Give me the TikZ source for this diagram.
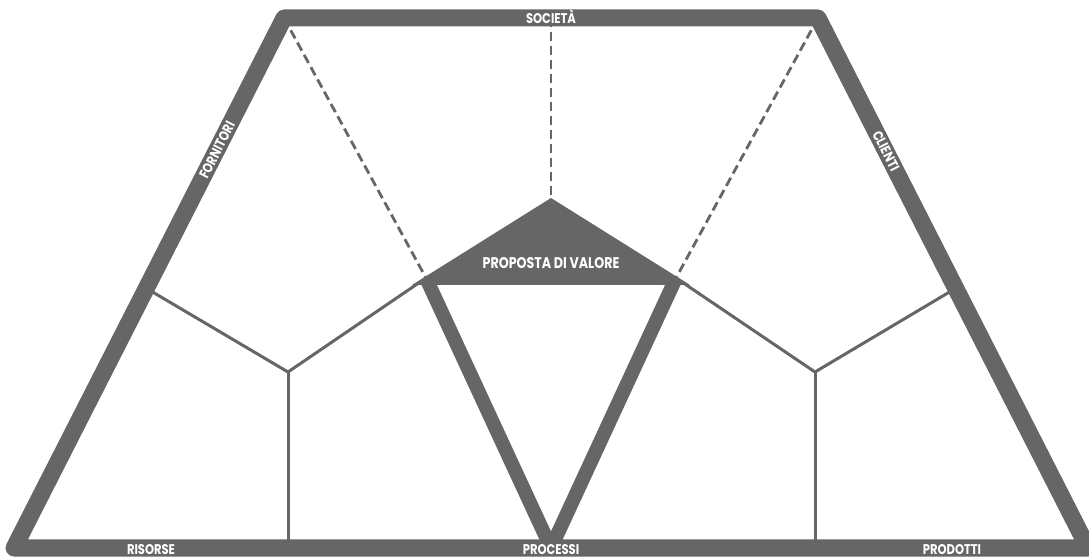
\documentclass[tikz,border=0pt]{standalone}
\usepackage{fontspec}
\newfontfamily\lblfont{Poppins}[FakeStretch=0.82]
\usepackage{tikz}
\usetikzlibrary{calc}
\definecolor{slate}{HTML}{666666}
\tikzset{frame/.style={draw=slate,line width=4.25mm,line join=round},vee/.style={draw=slate,line width=3.5mm,line join=miter},divider/.style={draw=slate,line width=.75mm},guide/.style={draw=slate,line width=.7mm,dash pattern=on 2.3mm off 1.2mm}}
\begin{document}
\begin{tikzpicture}[x=0.025cm,y=0.025cm,
lbl/.style={font=\lblfont\bfseries\fontsize{10}{12}\selectfont,text=white,inner sep=0pt,text height=7pt,text depth=0pt},
biglbl/.style={lbl,font=\lblfont\bfseries\fontsize{11}{13}\selectfont,text height=7.7pt}]
\useasboundingbox (0,0) rectangle (1089,558);
% corners of the outer frame and of the V
\coordinate (bl) at (14,10);\coordinate (tl) at (284,540);\coordinate (tr) at (818,540);\coordinate (br) at (1088,10);
\coordinate (tm) at (551,540);\coordinate (apex) at (551,360);
\coordinate (vl) at (426,280);\coordinate (vr) at (676,280);\coordinate (vb) at (551,10);
\coordinate (fl) at (412,273);\coordinate (fr) at (690,273);
\coordinate (jl) at (288,186);\coordinate (jr) at (815,186);
\coordinate (sl) at ($(bl)!.49!(tl)$);\coordinate (sr) at ($(br)!.49!(tr)$);
% dividers
\draw[divider] (sl)--(jl)--(vl);\draw[divider] (jl)--(jl|-bl);
\draw[divider] (vr)--(jr)--(sr);\draw[divider] (jr)--(jr|-bl);
\draw[guide] (tl)--(vl);\draw[guide] (tm)--(apex);\draw[guide] (tr)--(vr);
% value proposition
\begin{scope}
\clip (0,10) rectangle (1089,558);
\draw[vee] (vl)--(vb)--(vr);
\end{scope}
\fill[slate] (apex)--(fl)--(fr)--cycle;
\draw[frame] (bl)--(tl)--(tr)--(br)--cycle;
\node[lbl] (soc) at (551,539) {SOCIETÀ};
\node[lbl,rotate=63] (forn) at (217,408) {FORNITORI};
\node[lbl,rotate=-63] (cli) at (886,407) {CLIENTI};
\node[lbl] (ris) at (151,8) {RISORSE};\node[lbl] (proc) at (551,8) {PROCESSI};\node[lbl] (prod) at (952,8) {PRODOTTI};
\node[biglbl] (prop) at (551,295) {PROPOSTA DI VALORE};
\end{tikzpicture}
\end{document}
